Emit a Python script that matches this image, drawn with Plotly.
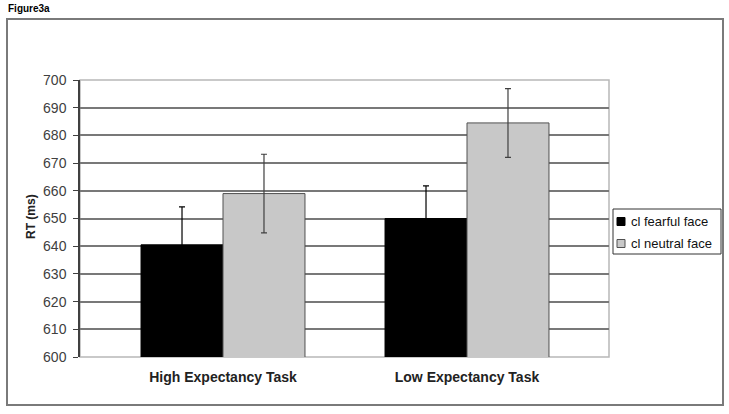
import plotly.graph_objects as go

categories = ["High Expectancy Task", "Low Expectancy Task"]
series_names = ["cl fearful face", "cl neutral face"]
fearful_rt = [640.5, 650.0]
fearful_err = [13.7, 11.8]
neutral_rt = [659.0, 684.5]
neutral_err = [14.2, 12.4]
y_ticks = list(range(600, 701, 10))

W, H = 729, 414
L, R, T, B = 80, 609, 80, 357

def px(x):
    return (x - L) / (R - L)

def py(y):
    return (B - y) / (B - T)

fig = go.Figure()
fig.add_trace(go.Bar(
    x=[0, 1], y=fearful_rt, name=series_names[0],
    marker=dict(color="#000000", line=dict(color="#000000", width=1)),
    error_y=dict(type="data", array=fearful_err, color="#000000", thickness=1.2, width=3),
))
fig.add_trace(go.Bar(
    x=[0, 1], y=neutral_rt, name=series_names[1],
    marker=dict(color="#c8c8c8", line=dict(color="#505050", width=1)),
    error_y=dict(type="data", array=neutral_err, color="#404040", thickness=1.2, width=3),
))

shapes = [
    dict(type="rect", xref="paper", yref="paper", x0=0, x1=1, y0=0, y1=1,
         line=dict(color="#b8b8b8", width=1.5), layer="below"),
    dict(type="rect", xref="paper", yref="paper", x0=px(7), x1=px(723), y0=py(405), y1=py(19),
         line=dict(color="#7a7a7a", width=2)),
    dict(type="rect", xref="paper", yref="paper", x0=px(613), x1=px(721), y0=py(254), y1=py(209),
         line=dict(color="#333333", width=1)),
    dict(type="rect", xref="paper", yref="paper", x0=px(617), x1=px(625), y0=py(225.5), y1=py(217.5),
         fillcolor="#000000", line=dict(color="#000000", width=1)),
    dict(type="rect", xref="paper", yref="paper", x0=px(617), x1=px(625), y0=py(247.5), y1=py(239.5),
         fillcolor="#c8c8c8", line=dict(color="#505050", width=1)),
]

annotations = [
    dict(text="<b>Figure3a</b>", xref="paper", yref="paper", x=px(6), y=py(8),
         xanchor="left", yanchor="middle", showarrow=False,
         font=dict(family="Liberation Sans, Arial", size=10, color="#000000")),
    dict(text="<b>RT (ms)</b>", xref="paper", yref="paper", x=px(31), y=py(217),
         xanchor="center", yanchor="middle", showarrow=False, textangle=-90,
         font=dict(family="Liberation Sans, Arial", size=12, color="#222222")),
    dict(text=series_names[0], xref="paper", yref="paper", x=px(629), y=py(221.5),
         xanchor="left", yanchor="middle", showarrow=False,
         font=dict(family="Liberation Sans, Arial", size=13, color="#111111")),
    dict(text=series_names[1], xref="paper", yref="paper", x=px(629), y=py(243.5),
         xanchor="left", yanchor="middle", showarrow=False,
         font=dict(family="Liberation Sans, Arial", size=13, color="#111111")),
]

fig.update_layout(
    width=W, height=H,
    margin=dict(l=L, r=W - R, t=T, b=H - B, pad=0),
    paper_bgcolor="white", plot_bgcolor="white",
    barmode="group", bargap=0.328, bargroupgap=0,
    showlegend=False,
    shapes=shapes, annotations=annotations,
    xaxis=dict(
        range=[-(223 - L) / 244, 1 + (R - 467) / 244],
        tickmode="array", tickvals=[0, 1],
        ticktext=["<b>" + c + "</b>" for c in categories],
        showgrid=False, zeroline=False, showline=False, ticks="",
        ticklabelstandoff=10,
        tickfont=dict(family="Liberation Sans, Arial", size=14, color="#222222"),
    ),
    yaxis=dict(
        range=[600, 700], tickmode="array", tickvals=y_ticks,
        showgrid=True, gridcolor="#787878", gridwidth=1.5,
        zeroline=False, showline=True, linecolor="#404040", linewidth=1.5,
        ticks="outside", ticklen=5, tickcolor="#404040", tickwidth=1.2,
        ticklabelstandoff=4,
        tickfont=dict(family="Liberation Sans, Arial", size=14, color="#404040"),
    ),
)

fig.write_html("out.html", config={"displayModeBar": False},
               post_script="document.body.style.margin='0';document.body.style.padding='0';")
